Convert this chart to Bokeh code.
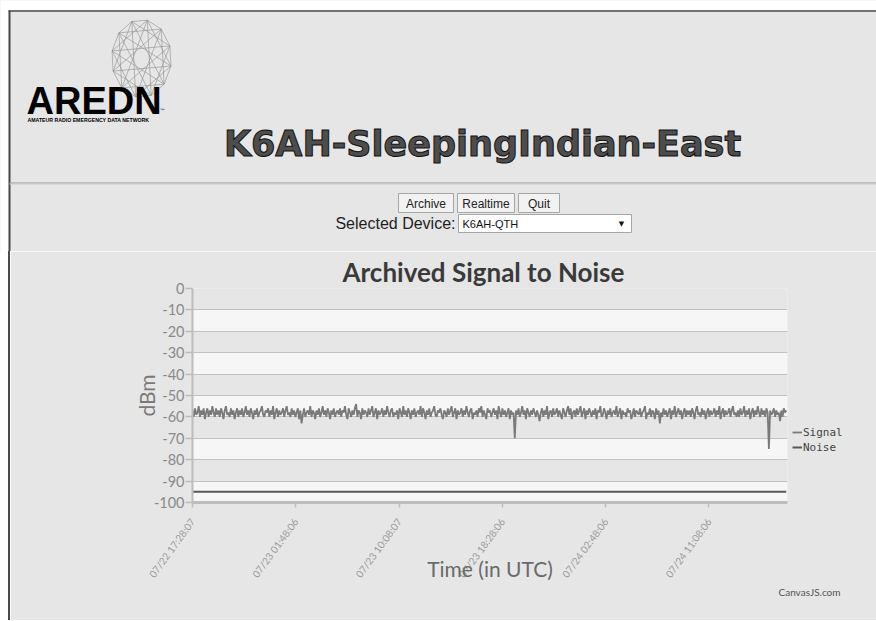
import math
from bokeh.plotting import figure
from bokeh.models import Range1d, FixedTicker, Legend, LegendItem, Title
from bokeh.layouts import column
from bokeh.embed import file_html
from bokeh.resources import INLINE
from bokeh.core.properties import value

# ---------------- data ----------------
page_title = "K6AH-SleepingIndian-East"
logo_text = "AREDN"
logo_sub = "AMATEUR RADIO EMERGENCY DATA NETWORK"
buttons = ["Archive", "Realtime", "Quit"]
device_label = "Selected Device:"
device_name = "K6AH-QTH"
chart_title = "Archived Signal to Noise"
y_title = "dBm"
x_title = "Time (in UTC)"
credit = "CanvasJS.com"
series_names = ["Signal", "Noise"]

sample_minutes = 6  # minutes between archived samples, starting 07/22 17:28:07
signal_dbm = [
    -57, -60, -56, -59, -58, -55, -60, -57, -59, -56, -61, -58, -56, -60, -57, -59, -55, -58, -60, -56,
    -59, -57, -60, -56, -58, -61, -57, -55, -59, -58, -60, -56, -59, -57, -61, -58, -56, -60, -57, -59,
    -56, -60, -58, -55, -59, -57, -60, -56, -58, -61, -57, -59, -56, -60, -58, -57, -55, -59, -60, -57,
    -58, -56, -60, -57, -59, -55, -61, -58, -56, -60, -57, -59, -58, -56, -60, -57, -55, -59, -58, -60,
    -56, -59, -57, -60, -58, -56, -61, -57, -63, -59, -56, -60, -58, -57, -59, -55, -60, -57, -58, -61,
    -57, -59, -56, -60, -58, -55, -59, -57, -60, -56, -58, -61, -57, -59, -56, -60, -58, -57, -59, -56,
    -60, -57, -58, -55, -59, -61, -56, -58, -60, -57, -59, -56, -54, -60, -57, -58, -61, -56, -59, -57,
    -58, -60, -56, -59, -57, -55, -60, -58, -56, -61, -57, -59, -58, -56, -60, -57, -59, -55, -58, -60,
    -57, -56, -60, -58, -59, -57, -61, -56, -58, -60, -55, -59, -57, -60, -56, -58, -61, -57, -59, -56,
    -60, -58, -57, -59, -55, -60, -56, -58, -61, -57, -59, -56, -60, -58, -57, -55, -59, -60, -57, -58,
    -56, -59, -61, -57, -58, -60, -56, -59, -57, -55, -60, -58, -56, -61, -57, -59, -58, -56, -60, -57,
    -59, -55, -58, -60, -57, -56, -61, -58, -59, -57, -60, -56, -58, -55, -60, -57, -59, -61, -56, -58,
    -57, -60, -58, -56, -59, -57, -61, -55, -58, -60, -56, -59, -57, -60, -58, -56, -61, -57, -59, -58,
    -70, -57, -59, -56, -60, -58, -55, -59, -57, -61, -56, -58, -60, -57, -59, -56, -58, -60, -57, -59,
    -62, -58, -56, -60, -57, -59, -55, -61, -58, -57, -60, -56, -59, -58, -56, -60, -57, -59, -61, -56,
    -58, -60, -57, -55, -59, -56, -61, -58, -57, -60, -56, -59, -57, -55, -60, -58, -56, -61, -57, -59,
    -56, -58, -60, -57, -59, -56, -61, -57, -58, -55, -60, -59, -56, -58, -61, -57, -59, -56, -60, -58,
    -57, -59, -55, -60, -58, -56, -61, -57, -59, -58, -60, -56, -58, -57, -61, -59, -56, -60, -57, -58,
    -59, -56, -60, -58, -57, -55, -61, -58, -59, -56, -60, -57, -58, -61, -56, -59, -57, -63, -58, -60,
    -56, -59, -57, -60, -58, -56, -61, -57, -59, -55, -60, -58, -56, -59, -57, -61, -58, -56, -60, -57,
    -59, -57, -60, -56, -58, -61, -57, -55, -59, -58, -60, -56, -59, -57, -61, -58, -56, -60, -57, -59,
    -58, -56, -60, -57, -59, -55, -61, -58, -56, -60, -57, -59, -58, -56, -60, -57, -55, -59, -58, -60,
    -57, -60, -56, -59, -58, -55, -60, -57, -59, -56, -61, -58, -56, -60, -57, -59, -55, -58, -60, -56,
    -59, -57, -60, -56, -58, -75, -57, -59, -58, -56, -60, -57, -59, -58, -62, -57, -60, -56, -58, -57,
]
signal_minutes = [i * sample_minutes for i in range(len(signal_dbm))]
noise_minutes = [signal_minutes[0], signal_minutes[-1]]
noise_dbm = [-95, -95]

time_span_minutes = 2880
time_ticks = [0, 500, 1000, 1500, 2000, 2500]
time_tick_labels = ["07/22 17:28:07", "07/23 01:48:06", "07/23 10:08:07",
                    "07/23 18:28:06", "07/24 02:48:06", "07/24 11:08:06"]
y_ticks = [0, -10, -20, -30, -40, -50, -60, -70, -80, -90, -100]
y_tick_labels = ["0", "-10", "-20", "-30", "-40", "-50", "-60", "-70", "-80", "-90", "-100"]

# ---------------- styling ----------------
BG = "#e6e6e6"
BAND = "#f6f6f6"
SANS = "Liberation Sans"
PAGE_W = 876
HDR_H = 251

# ---------------- header (page) ----------------
hdr = figure(frame_width=PAGE_W, frame_height=HDR_H, x_range=Range1d(0, PAGE_W),
             y_range=Range1d(HDR_H, 0), x_axis_type=None, y_axis_type=None,
             output_backend="svg", toolbar_location=None, min_border=0,
             outline_line_color=None, background_fill_color=BG, border_fill_color=BG,
             frame_align=False)
hdr.grid.visible = False

# body margin (white) and the page border
hdr.quad(left=0, right=PAGE_W, top=0, bottom=10, fill_color="white", line_color=None)
hdr.quad(left=0, right=8, top=0, bottom=HDR_H, fill_color="white", line_color=None)
hdr.segment(x0=8, y0=10.5, x1=PAGE_W, y1=10.5, line_color="#4a4a4a", line_width=1.5)
hdr.segment(x0=9, y0=10, x1=9, y1=HDR_H, line_color="#4a4a4a", line_width=2)

# logo wireframe globe
cx, cy, rx, ry = 141, 58, 30, 39
n = 12
px = [cx + rx * math.cos(2 * math.pi * k / n - 1.9) for k in range(n)]
py = [cy + ry * math.sin(2 * math.pi * k / n - 1.9) for k in range(n)]
x0s, y0s, x1s, y1s = [], [], [], []
for k in range(n):
    for step in (1, 3, 5):
        j = (k + step) % n
        x0s.append(px[k]); y0s.append(py[k]); x1s.append(px[j]); y1s.append(py[j])
hdr.segment(x0=x0s, y0=y0s, x1=x1s, y1=y1s, line_color="#8f8f8f", line_width=0.6)

hdr.text(x=[26], y=[100], text=[logo_text], text_font=value(SANS),
         text_font_style="bold", text_font_size="38px", text_color="black",
         text_baseline="middle")
hdr.text(x=[27], y=[119.5], text=[logo_sub], text_font=value(SANS),
         text_font_style="bold", text_font_size="5.2px", text_color="black",
         text_baseline="middle")
hdr.text(x=[159], y=[110], text=["\u2122"], text_font=value("DejaVu Sans"),
         text_font_size="6px", text_color="black", text_baseline="middle")

hdr.text(x=[482], y=[143], text=[page_title], text_align="center", text_baseline="middle",
         text_font=value("DejaVu Sans"), text_font_style="bold", text_font_size="35px",
         text_color="#4d4d4d", text_outline_color="#111111")

hdr.segment(x0=9, y0=182.5, x1=PAGE_W, y1=182.5, line_color="#9a9a9a", line_width=1)
hdr.segment(x0=9, y0=183.5, x1=PAGE_W, y1=183.5, line_color="#cdcdcd", line_width=1)

btn_x = [425.5, 485.5, 538.5]
btn_w = [55, 57, 41]
hdr.rect(x=btn_x, y=[202.5] * 3, width=btn_w, height=[19] * 3,
         fill_color="#f2f2f2", line_color="#a6a6a6", line_width=1)
hdr.text(x=btn_x, y=[203] * 3, text=buttons, text_align="center", text_baseline="middle",
         text_font=value(SANS), text_font_size="12px", text_color="#222222")

hdr.text(x=[455], y=[222.5], text=[device_label], text_align="right", text_baseline="middle",
         text_font=value(SANS), text_font_size="16px", text_color="#1e1e1e")
hdr.rect(x=[544.5], y=[223], width=[173], height=[18], fill_color="white",
         line_color="#a6a6a6", line_width=1)
hdr.text(x=[462], y=[223.5], text=[device_name], text_align="left", text_baseline="middle",
         text_font=value(SANS), text_font_size="11px", text_color="#111111")
hdr.text(x=[621], y=[223.5], text=["\u25bc"], text_align="center", text_baseline="middle",
         text_font=value("DejaVu Sans"), text_font_size="7px", text_color="#111111")

# ---------------- chart ----------------
ch = figure(frame_width=593, frame_height=214,
            x_range=Range1d(0, time_span_minutes), y_range=Range1d(-100, 0),
            output_backend="svg", toolbar_location=None, frame_align=False,
            min_border_left=182, min_border_right=91, min_border_top=37, min_border_bottom=118,
            background_fill_color=BG, border_fill_color=BG, outline_line_color=None,
            styles={"margin-left": "8px", "border-left": "2px solid #4a4a4a"})

ch.title.text = chart_title
ch.title.align = "left"
ch.title.offset = 150
ch.title.standoff = 2
ch.title.text_font = "Lato"
ch.title.text_font_style = "bold"
ch.title.text_font_size = "26px"
ch.title.text_color = "#3a3a3a"

# interlaced light bands between alternate y ticks
ch.quad(left=0, right=time_span_minutes, top=y_ticks[1:-1:2], bottom=y_ticks[2::2],
        fill_color=BAND, line_color=None, level="image")

ch.xgrid.visible = False
ch.ygrid.ticker = FixedTicker(ticks=y_ticks)
ch.ygrid.grid_line_color = "#c2c2c2"
ch.ygrid.grid_line_width = 1.2
ch.ygrid.band_fill_alpha = 0

ya = ch.yaxis[0]
ya.ticker = FixedTicker(ticks=y_ticks)
ya.major_label_overrides = {t: lab for t, lab in zip(y_ticks, y_tick_labels)}
ya.axis_line_color = "#bdbdbd"
ya.axis_line_width = 2
ya.major_tick_line_color = "#bdbdbd"
ya.major_tick_line_width = 1.5
ya.major_tick_out = 7
ya.major_tick_in = 0
ya.minor_tick_line_color = None
ya.major_label_text_font = "Lato"
ya.major_label_text_font_size = "14.5px"
ya.major_label_text_color = "#8a8a8a"
ya.major_label_standoff = 1
ya.axis_label = y_title
ya.axis_label_text_font = "Lato"
ya.axis_label_text_font_style = "normal"
ya.axis_label_text_font_size = "21px"
ya.axis_label_text_color = "#7a7a7a"
ya.axis_label_standoff = -8

xa = ch.xaxis[0]
xa.ticker = FixedTicker(ticks=time_ticks)
xa.major_label_overrides = {t: lab for t, lab in zip(time_ticks, time_tick_labels)}
xa.major_label_orientation = 0.94
xa.axis_line_color = "#bdbdbd"
xa.axis_line_width = 3
xa.major_tick_line_color = "#bdbdbd"
xa.major_tick_line_width = 1.5
xa.major_tick_out = 5
xa.major_tick_in = 0
xa.minor_tick_line_color = None
xa.major_label_text_font = "Lato"
xa.major_label_text_font_size = "10px"
xa.major_label_text_color = "#9a9a9a"
xa.major_label_standoff = 12
xa.axis_label = x_title
xa.axis_label_text_font = "Lato"
xa.axis_label_text_font_style = "normal"
xa.axis_label_text_font_size = "21px"
xa.axis_label_text_color = "#6a6a6a"
xa.axis_label_standoff = -30

r_sig = ch.line(signal_minutes, signal_dbm, line_color="#7a7a7a", line_width=1.8)
r_noise = ch.line(noise_minutes, noise_dbm, line_color="#585858", line_width=2)

legend = Legend(items=[LegendItem(label=series_names[0], renderers=[r_sig]),
                       LegendItem(label=series_names[1], renderers=[r_noise])],
                location=(5, 48), orientation="vertical",
                label_text_font="DejaVu Sans Mono", label_text_font_size="11px",
                label_text_color="#444444", glyph_width=10, glyph_height=14,
                label_height=14, label_standoff=1, spacing=1, padding=0, margin=0,
                border_line_color=None, background_fill_alpha=0)
ch.add_layout(legend, "right")

ch.add_layout(Title(text=credit, align="right", offset=-53, standoff=-26, text_font="Lato",
                    text_font_style="normal", text_font_size="10px",
                    text_color="#555555"), "below")

page = column(hdr, ch, spacing=0)
open("out.html", "w").write(file_html(page, INLINE))
